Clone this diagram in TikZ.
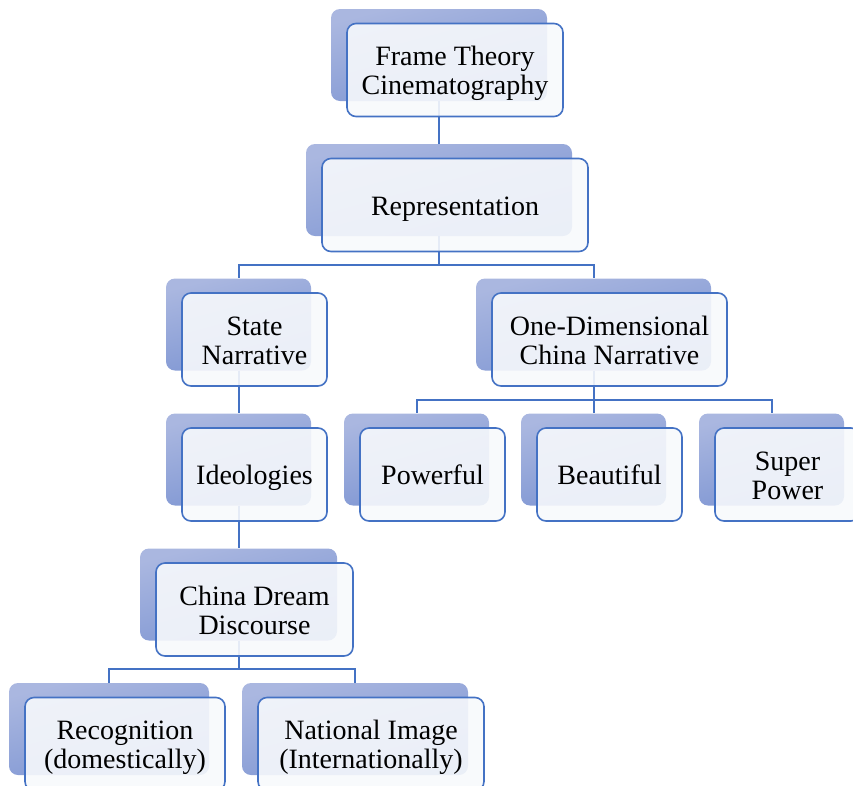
\documentclass[tikz,border=0pt]{standalone}
\usepackage{fontspec}
\setmainfont{Liberation Serif}

\definecolor{backtop}{RGB}{170,183,224}
\definecolor{backbot}{RGB}{124,148,210}
\definecolor{frontfill}{RGB}{247,249,252}
\definecolor{linkblue}{RGB}{68,114,196}

\newcommand\boxtext[1]{\raisebox{-4.5pt}[\height][\depth]{%
  \begin{tabular}{@{}c@{}}#1\end{tabular}}}

\begin{document}
\begin{tikzpicture}[
  x=1pt,y=-1pt,
  font=\fontsize{28}{29}\selectfont,
  backbox/.style={rounded corners=9pt,top color=backtop,bottom color=backbot,
    shading angle=15,draw=none,minimum height=92pt,inner sep=0pt},
  frontbox/.style={rounded corners=9pt,draw=linkblue,line width=1.6pt,
    fill=frontfill,fill opacity=.9,text opacity=1,minimum height=93pt,
    inner sep=0pt},
  link/.style={draw=linkblue,line width=2pt}
]
  \clip (0,0) rectangle (853,785);

  % Back shapes.
  \node[backbox,minimum width=216] (frameB) at (439,55) {};
  \node[backbox,minimum width=266] (repB) at (439,190) {};
  \node[backbox,minimum width=145] (stateB) at (238.5,324.5) {};
  \node[backbox,minimum width=235] (oneB) at (593.5,324.5) {};
  \node[backbox,minimum width=145] (ideoB) at (238.5,459.5) {};
  \node[backbox,minimum width=145] (powB) at (416.5,459.5) {};
  \node[backbox,minimum width=145] (beauB) at (593.5,459.5) {};
  \node[backbox,minimum width=145] (supB) at (771.5,459.5) {};
  \node[backbox,minimum width=197] (dreamB) at (238.5,594.5) {};
  \node[backbox,minimum width=200] (recB) at (109,729) {};
  \node[backbox,minimum width=226] (natB) at (355,729) {};

  % Connectors.
  \draw[link] (frameB.south) -- (repB.north);
  \draw[link] (repB.south) -- ++(0,29) coordinate (repM) -| (stateB.north);
  \draw[link] (repM) -| (oneB.north);
  \draw[link] (stateB.south) -- (ideoB.north);
  \draw[link] (ideoB.south) -- (dreamB.north);
  \draw[link] (oneB.south) -- ++(0,29) coordinate (oneM) -| (powB.north);
  \draw[link] (oneM) -- (beauB.north);
  \draw[link] (oneM) -| (supB.north);
  \draw[link] (dreamB.south) -- ++(0,28) coordinate (dreamM) -| (recB.north);
  \draw[link] (dreamM) -| (natB.north);

  % Front boxes.
  \node[frontbox,minimum width=216] (frame) at ([shift={(16,15)}]frameB)
    {\boxtext{Frame Theory\\Cinematography}};
  \node[frontbox,minimum width=266] (rep) at ([shift={(16,15)}]repB)
    {\boxtext{Representation}};
  \node[frontbox,minimum width=145] (state) at ([shift={(16,15)}]stateB)
    {\boxtext{State\\Narrative}};
  \node[frontbox,minimum width=235] (one) at ([shift={(16,15)}]oneB)
    {\boxtext{One-Dimensional\\China Narrative}};
  \node[frontbox,minimum width=145] (ideo) at ([shift={(16,15)}]ideoB)
    {\boxtext{Ideologies}};
  \node[frontbox,minimum width=145] (pow) at ([shift={(16,15)}]powB)
    {\boxtext{Powerful}};
  \node[frontbox,minimum width=145] (beau) at ([shift={(16,15)}]beauB)
    {\boxtext{Beautiful}};
  \node[frontbox,minimum width=145] (sup) at ([shift={(16,15)}]supB)
    {\boxtext{Super\\Power}};
  \node[frontbox,minimum width=197] (dream) at ([shift={(16,15)}]dreamB)
    {\boxtext{China Dream\\Discourse}};
  \node[frontbox,minimum width=200] (rec) at ([shift={(16,15)}]recB)
    {\boxtext{Recognition\\(domestically)}};
  \node[frontbox,minimum width=226] (nat) at ([shift={(16,15)}]natB)
    {\boxtext{National Image\\(Internationally)}};
\end{tikzpicture}
\end{document}
